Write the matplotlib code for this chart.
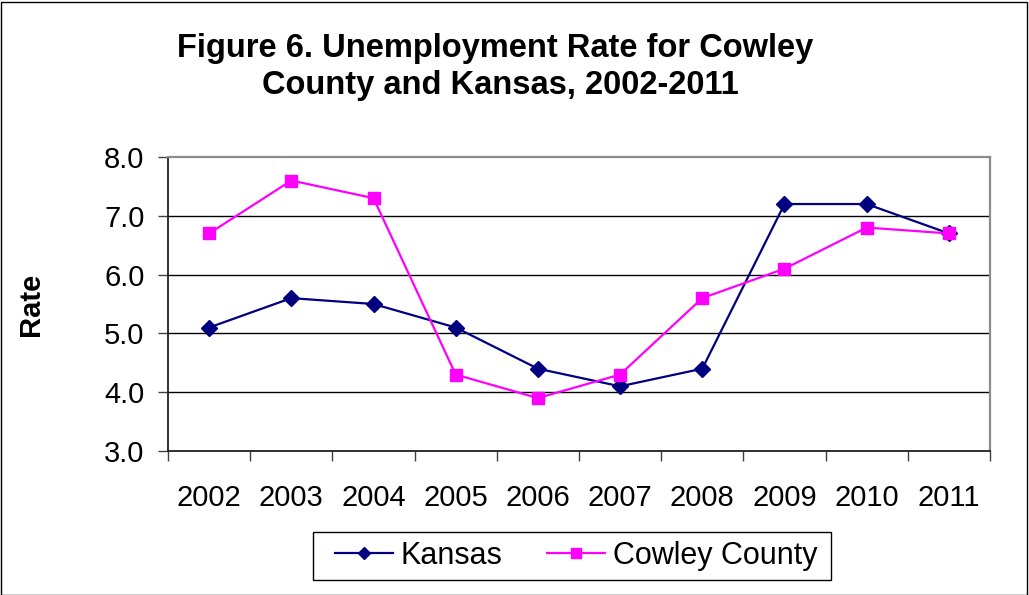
import matplotlib
matplotlib.use("Agg")
import matplotlib.pyplot as plt
from matplotlib.patches import Rectangle

years = ["2002", "2003", "2004", "2005", "2006", "2007", "2008", "2009", "2010", "2011"]
kansas = [5.1, 5.6, 5.5, 5.1, 4.4, 4.1, 4.4, 7.2, 7.2, 6.7]
cowley = [6.7, 7.6, 7.3, 4.3, 3.9, 4.3, 5.6, 6.1, 6.8, 6.7]
y_ticks = [3.0, 4.0, 5.0, 6.0, 7.0, 8.0]

plt.rcParams["font.family"] = ["Liberation Sans", "DejaVu Sans"]

W, H = 1029, 595
fig = plt.figure(figsize=(W / 100, H / 100), dpi=100)
fig.patch.set_facecolor("white")

# outer frame around the whole chart
fig.patches.append(Rectangle((0.5 / W, 0.5 / H), 1 - 2.5 / W, 1 - 2.5 / H,
                             transform=fig.transFigure, fill=False,
                             edgecolor="black", linewidth=1.0))

ax = fig.add_axes([168 / W, 1 - 451 / H, 822 / W, 294 / H])
x = list(range(len(years)))

ax.plot(x, kansas, color="#000080", marker="D", markersize=8, linewidth=1.6,
        label="Kansas", zorder=3)
ax.plot(x, cowley, color="#FF00FF", marker="s", markersize=9, linewidth=1.6,
        label="Cowley County", zorder=4)

ax.set_xlim(-0.5, len(years) - 0.5)
ax.set_ylim(3.0, 8.0)

# category boundaries carry the tick marks, centres carry the labels
ax.set_xticks([i - 0.5 for i in range(len(years) + 1)])
ax.set_xticklabels([])
ax.set_xticks(x, minor=True)
ax.set_xticklabels(years, minor=True, fontsize=21)
ax.tick_params(axis="x", which="major", direction="out", length=7, width=1, color="#404040")
ax.tick_params(axis="x", which="minor", length=0, pad=24)

ax.set_yticks(y_ticks)
ax.set_yticklabels([f"{v:.1f}" for v in y_ticks], fontsize=21)
ax.tick_params(axis="y", direction="out", length=7, width=1, pad=10, color="#404040")

for v in y_ticks[1:-1]:
    ax.axhline(v, color="black", linewidth=1.0, zorder=1)

for side in ("left", "bottom"):
    ax.spines[side].set_color("#202020")
    ax.spines[side].set_linewidth(1.3)
for side in ("top", "right"):
    ax.spines[side].set_color("#8c8c8c")
    ax.spines[side].set_linewidth(1.6)

fig.text(31 / W, 1 - 304 / H, "Rate", rotation=90, ha="center", va="center",
         fontsize=21, fontweight="bold")

fig.text(495 / W, 1 - 57 / H, "Figure 6. Unemployment Rate for Cowley",
         ha="center", va="baseline", fontsize=23.5, fontweight="bold")
fig.text(500 / W, 1 - 94 / H, "County and Kansas, 2002-2011",
         ha="center", va="baseline", fontsize=23.5, fontweight="bold")

# legend entries, with a plain rectangular box drawn around them
leg = fig.legend(loc="center", bbox_to_anchor=(576 / W, 1 - 556 / H), ncol=2,
                 fontsize=22, frameon=False,
                 handlelength=1.9, handletextpad=0.26, columnspacing=1.44,
                 borderpad=0.0, markerscale=0.8)
fig.patches.append(Rectangle((313 / W, 1 - 580 / H), 518 / W, 48 / H,
                             transform=fig.transFigure, fill=False,
                             edgecolor="black", linewidth=1.0))

fig.savefig("out.png", dpi=100, facecolor="white")
